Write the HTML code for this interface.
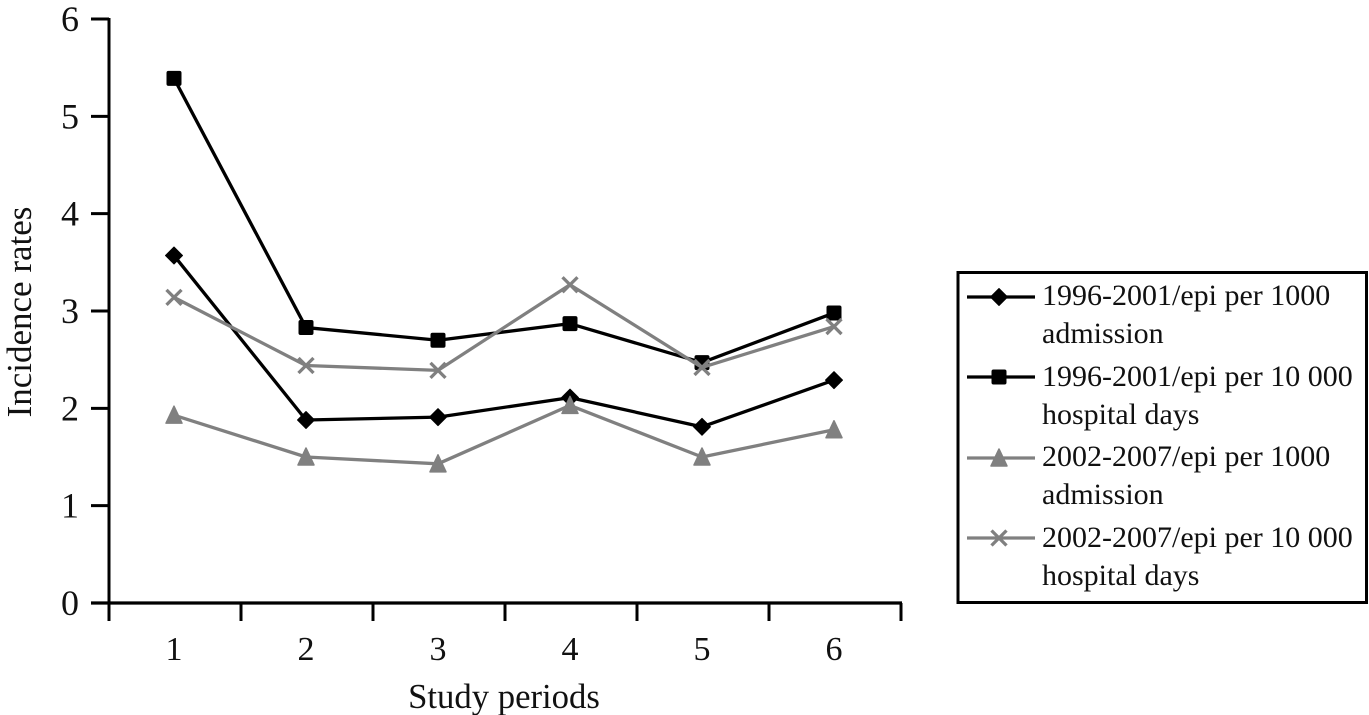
<!DOCTYPE html>
<html>
<head>
<meta charset="utf-8">
<title>Incidence rates by study period</title>
<style>
html,body{margin:0;padding:0;background:#fff;width:1369px;height:715px;overflow:hidden}
svg{display:block;font-family:"Liberation Serif",serif;fill:#111}
</style>
</head>
<body>
<svg id="chart" width="1369" height="715" viewBox="0 0 1369 715" xmlns="http://www.w3.org/2000/svg"></svg>
<script>
const categories = ['1','2','3','4','5','6'];
const yTickLabels = [0,1,2,3,4,5,6];
const seriesDiamond = [3.57,1.88,1.91,2.11,1.81,2.29];
const seriesSquare = [5.39,2.83,2.70,2.87,2.47,2.98];
const seriesTriangle = [1.93,1.50,1.43,2.03,1.50,1.78];
const seriesCross = [3.14,2.44,2.39,3.27,2.42,2.84];
const legendDiamond = ['1996-2001/epi per 1000','admission'];
const legendSquare = ['1996-2001/epi per 10 000','hospital days'];
const legendTriangle = ['2002-2007/epi per 1000','admission'];
const legendCross = ['2002-2007/epi per 10 000','hospital days'];

const NS = 'http://www.w3.org/2000/svg';
const svg = document.getElementById('chart');
const BLACK = '#000', GREY = '#808080';
const X0 = 109, BAND = 132, Y0 = 603, UNIT = 97.33;
const xPos = i => X0 + BAND * (i + 0.5);
const yPos = v => Y0 - UNIT * v;

function add(tag, attrs, parent, text) {
  const el = document.createElementNS(NS, tag);
  for (const k in attrs) el.setAttribute(k, attrs[k]);
  if (text !== undefined) el.textContent = text;
  (parent || svg).appendChild(el);
  return el;
}
function line(x1, y1, x2, y2, color, w, parent) {
  return add('line', {x1, y1, x2, y2, stroke: color, 'stroke-width': w}, parent);
}
function marker(kind, x, y, color, parent) {
  let el;
  if (kind === 'diamond') {
    el = add('polygon', {points: [x,y-8.5,x+8.5,y,x,y+8.5,x-8.5,y].join(' '), fill: color, stroke: color, 'stroke-width': 1, 'stroke-linejoin': 'round'}, parent);
  } else if (kind === 'square') {
    el = add('rect', {x: x-7, y: y-7, width: 14, height: 14, rx: 1.5, fill: color, stroke: color, 'stroke-width': 1}, parent);
  } else if (kind === 'triangle') {
    el = add('polygon', {points: [x,y-9,x+8,y+8,x-8,y+8].join(' '), fill: color, stroke: color, 'stroke-width': 1.5, 'stroke-linejoin': 'round'}, parent);
  } else {
    el = add('path', {d: 'M'+(x-7.5)+' '+(y-7.5)+'L'+(x+7.5)+' '+(y+7.5)+'M'+(x+7.5)+' '+(y-7.5)+'L'+(x-7.5)+' '+(y+7.5), fill: 'none', stroke: color, 'stroke-width': 3.3}, parent);
  }
  return el;
}

/* axes */
const axes = add('g', {});


const yAxisLine = line(X0, 18, X0, Y0 + 1.5, BLACK, 3, axes);


const xAxisLine = line(91, Y0, 902, Y0, BLACK, 3.2, axes);



yTickLabels.forEach(function (v) {
  const t = line(91, yPos(v), X0, yPos(v), BLACK, 3, axes);
  
  
  const l = add('text', {x: 79, y: yPos(v) + 12, 'text-anchor': 'end', 'font-size': 36}, axes, String(v));
  
  
});
for (let i = 0; i <= categories.length; i++) {
  const t = line(X0 + BAND * i, Y0, X0 + BAND * i, 621, BLACK, 3, axes);
  
  
}
categories.forEach(function (c, i) {
  const l = add('text', {x: xPos(i) - 1, y: 660, 'text-anchor': 'middle', 'font-size': 34}, axes, c);
  
  
});

const xTitle = add('text', {x: 504, y: 708, 'text-anchor': 'middle', 'font-size': 34.7}, svg, 'Study periods');


const yTitle = add('text', {transform: 'translate(31 312) rotate(-90)', 'text-anchor': 'middle', 'font-size': 35}, svg, 'Incidence rates');



/* series */
function drawSeries(values, kind, color) {
  const g = add('g', {});
  
  
  const pts = values.map(function (v, i) { return xPos(i) - 1 + ' ' + yPos(v); }).join(' ');
  const pl = add('polyline', {points: pts, fill: 'none', stroke: color, 'stroke-width': 3.3, 'stroke-linejoin': 'round'}, g);
  
  
  values.forEach(function (v, i) {
    const m = marker(kind, xPos(i) - 1, yPos(v), color, g);
    
    
  });
}
drawSeries(seriesDiamond, 'diamond', BLACK);
drawSeries(seriesSquare, 'square', BLACK);
drawSeries(seriesTriangle, 'triangle', GREY);
drawSeries(seriesCross, 'cross', GREY);

/* legend */
const legend = add('g', {});


const legendBox = add('rect', {x: 958, y: 272.5, width: 408.5, height: 330, fill: '#fff', stroke: BLACK, 'stroke-width': 3}, legend);



function legendEntry(lines, kind, color, keyY, base1, base2) {
  const g = add('g', {}, legend);
  
  
  const k = line(967, keyY, 1035, keyY, color, 3.3, g);
  
  
  const m = marker(kind, 999, keyY, color, g);
  
  
  const a = add('text', {x: 1042, y: base1, 'font-size': 30}, g, lines[0]);
  
  
  const b = add('text', {x: 1042, y: base2, 'font-size': 30}, g, lines[1]);
  
  
}
legendEntry(legendDiamond, 'diamond', BLACK, 297, 305, 343);
legendEntry(legendSquare, 'square', BLACK, 377, 386, 424);
legendEntry(legendTriangle, 'triangle', GREY, 458, 466, 504);
legendEntry(legendCross, 'cross', GREY, 538, 547, 585);
</script>
</body>
</html>
